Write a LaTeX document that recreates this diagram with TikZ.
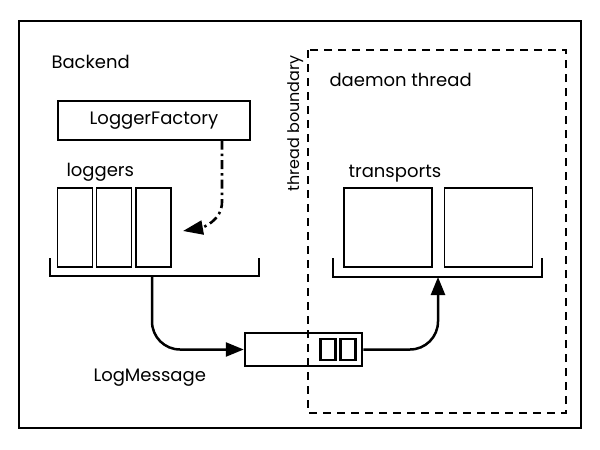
\documentclass[tikz,border=0pt]{standalone}
\usepackage{fontspec}
\setmainfont{Poppins}
\usetikzlibrary{arrows.meta, positioning}

\begin{document}
\begin{tikzpicture}[x=1pt, y=-1pt, >={Triangle[length=18pt,width=14pt]},
        every node/.style={font=\fontsize{18}{21}\selectfont},
        frame/.style={draw, line width=1.3pt},
        slot/.style={frame, minimum width=35pt, minimum height=79pt, inner sep=0pt},
        tslot/.style={frame, minimum width=88pt, minimum height=79pt, inner sep=0pt},
        queue/.style={draw, line width=2.5pt, minimum width=117pt, minimum height=33pt, inner sep=0pt},
        cell/.style={draw, line width=2.2pt, minimum width=15pt, minimum height=21pt, inner sep=0pt},
        flow/.style={->, line width=2.5pt, rounded corners=28pt}]

    \useasboundingbox (0,0) rectangle (600,450);

    % process and thread boundaries
    \draw[frame] (19,21) rectangle (581,428);

    % backend side
    \node[anchor=base west] (backend) at (48,68) {Backend};
    \node[frame, minimum width=192pt, minimum height=39pt] (factory) at (154,120.5) {LoggerFactory};
    \node[anchor=base west] (loggers) at (63,176) {loggers};
    \node[slot] (log1) at (75,227.5) {};
    \node[slot, right=3pt of log1] (log2) {};
    \node[slot, right=3pt of log2] (log3) {};
    \draw[frame] (50,258) |- (259,276) -- (259,258);
    \coordinate (logsout) at (152,276);

    % daemon side
    \node[anchor=base west] (daemon) at (326,86) {daemon thread};
    \node[anchor=base west] (transports) at (345,177) {transports};
    \node[tslot] (trans1) at (388,227.5) {};
    \node[tslot, right=11pt of trans1] (trans2) {};
    \draw[frame] (333,258) |- (542,277) -- (542,258);
    \coordinate (transin) at (438,277);

    \node[rotate=90, anchor=base west, font=\fontsize{16}{19}\selectfont] (boundary) at (299,195) {thread boundary};

    % message queue
    \node[queue] (msgq) at (303.5,349.5) {};
    \node[cell] (cell1) at (328,349.5) {};
    \node[cell] (cell2) at (348,349.5) {};
    \node[anchor=base west] (logmsg) at (90,381) {LogMessage};

    \draw[dashed, line width=1.3pt, dash pattern=on 8pt off 6pt] (308,50) rectangle (566,413);

    % connectors
    \draw[->, line width=2.6pt, dash pattern=on 9pt off 4pt on 2.5pt off 4pt,
          >={Triangle[length=20pt,width=14pt]}]
        (factory.south -| 222,0) -- (222,202) to[out=-90, in=10] (183,231);
    \draw[flow] (logsout) |- (msgq.west);
    \draw[flow] (msgq.east) -| (transin);
\end{tikzpicture}
\end{document}
